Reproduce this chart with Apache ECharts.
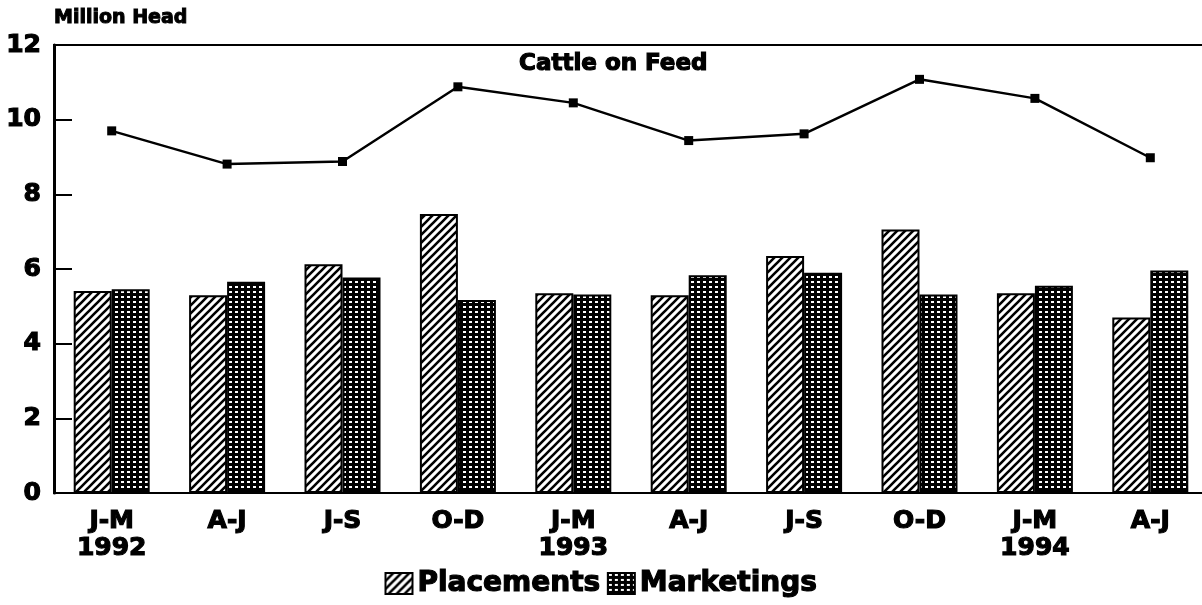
<!DOCTYPE html>
<html>
<head>
<meta charset="utf-8">
<script src="https://cdn.jsdelivr.net/npm/echarts@6/dist/echarts.min.js"></script>
<style>
html,body{margin:0;padding:0;background:#fff;}
#chart{width:1202px;height:605px;}
</style>
</head>
<body>
<div id="chart"></div>
<script>
const categories = ['J-M\n1992','A-J','J-S','O-D','J-M\n1993','A-J','J-S','O-D','J-M\n1994','A-J'];
const placements = [5.41, 5.30, 6.13, 7.47, 5.35, 5.30, 6.35, 7.06, 5.35, 4.70];
const marketings = [5.46, 5.66, 5.77, 5.17, 5.32, 5.83, 5.90, 5.32, 5.55, 5.96];
const cattleOnFeed = [9.70, 8.81, 8.88, 10.88, 10.45, 9.44, 9.62, 11.08, 10.57, 8.98];
const yTicks = [0, 2, 4, 6, 8, 10, 12];

const FONT = '"DejaVu Sans", sans-serif';
const heavy = { fontFamily: FONT, fontWeight: 'bold', color: '#000', textBorderColor: '#000', textBorderWidth: 1.2 };

function hatchPattern() {
  const c = document.createElement('canvas');
  c.width = 8; c.height = 8;
  const g = c.getContext('2d');
  g.fillStyle = '#fff'; g.fillRect(0, 0, 8, 8);
  g.strokeStyle = '#000'; g.lineWidth = 2.6;
  g.beginPath();
  g.moveTo(-2, 10); g.lineTo(10, -2);
  g.moveTo(-6, 6); g.lineTo(6, -6);
  g.moveTo(2, 14); g.lineTo(14, 2);
  g.stroke();
  return c;
}
function gridPattern() {
  const c = document.createElement('canvas');
  c.width = 6; c.height = 5;
  const g = c.getContext('2d');
  g.fillStyle = '#000'; g.fillRect(0, 0, 6, 5);
  g.fillStyle = '#fff'; g.fillRect(1, 1, 3, 2);
  return c;
}
const hatchFill = { image: hatchPattern(), repeat: 'repeat' };
const gridFill = { image: gridPattern(), repeat: 'repeat' };

const chart = echarts.init(document.getElementById('chart'), null, { renderer: 'canvas' });
chart.setOption({
  backgroundColor: '#fff',
  animation: false,
  grid: {
    left: 54, width: 1154, top: 45, height: 448,
    outerBoundsMode: 'none', containLabel: false,
    show: true, borderColor: '#000', borderWidth: 2, backgroundColor: 'transparent'
  },
  title: [
    { text: 'Million Head', left: 54, top: 9, padding: 0,
      textStyle: Object.assign({ fontSize: 19 }, heavy, { textBorderWidth: 1 }) },
    { text: 'Cattle on Feed', left: 519, top: 53, padding: 0,
      textStyle: Object.assign({ fontSize: 23 }, heavy) }
  ],
  legend: {
    bottom: 7, left: 'center', padding: 0,
    itemWidth: 27, itemHeight: 21, itemGap: 6,
    data: [
      { name: 'Placements', icon: 'rect' },
      { name: 'Marketings', icon: 'rect' }
    ],
    textStyle: Object.assign({ fontSize: 28 }, heavy)
  },
  xAxis: {
    type: 'category',
    data: categories,
    axisLine: { show: true, lineStyle: { color: '#000', width: 2 } },
    axisTick: { show: false },
    axisLabel: Object.assign({ fontSize: 25, lineHeight: 27, margin: 15, interval: 0 }, heavy)
  },
  yAxis: {
    type: 'value', min: 0, max: 12, interval: 2,
    axisLine: { show: true, lineStyle: { color: '#000', width: 3 } },
    axisTick: { show: true, inside: true, length: 18, lineStyle: { color: '#000', width: 2 } },
    splitLine: { show: false },
    axisLabel: Object.assign({
      fontSize: 25, margin: 13,
      formatter: function (v) { return yTicks.indexOf(v) >= 0 ? String(v) : ''; }
    }, heavy)
  },
  series: [
    {
      name: 'Placements', type: 'bar', data: placements,
      barWidth: 38, barGap: '0%',
      itemStyle: { color: hatchFill, borderColor: '#000', borderWidth: 2 }
    },
    {
      name: 'Marketings', type: 'bar', data: marketings,
      barWidth: 38,
      itemStyle: { color: gridFill, borderColor: '#000', borderWidth: 2 }
    },
    {
      name: 'Cattle on Feed', type: 'line', data: cattleOnFeed,
      symbol: 'rect', symbolSize: 9,
      lineStyle: { color: '#000', width: 2.5 },
      itemStyle: { color: '#000' }
    }
  ]
});
</script>
</body>
</html>
